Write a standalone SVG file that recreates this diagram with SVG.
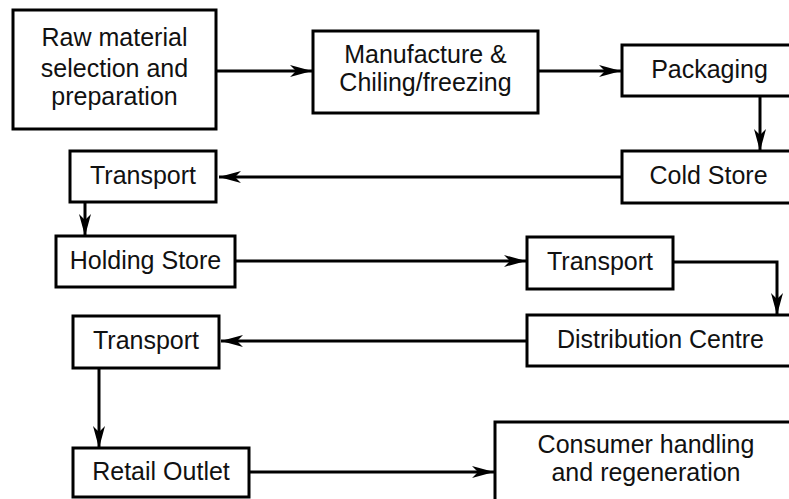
<svg xmlns="http://www.w3.org/2000/svg" width="789" height="499" viewBox="0 0 789 499">
<style>
.box{fill:#fff;stroke:#000;stroke-width:3}
.lbl{font-family:"Liberation Sans",Arial,sans-serif;font-size:25px;fill:#111;text-anchor:middle}
.conn{fill:none;stroke:#000;stroke-width:3}
</style>
<defs>
<marker id="ah" markerUnits="userSpaceOnUse" markerWidth="24" markerHeight="14" refX="22" refY="7" orient="auto" viewBox="0 0 24 14">
<path d="M0,1 L22,7 L0,13 L6,7 z" fill="#000"/>
</marker>
</defs>
<rect width="789" height="499" fill="#fff"/>
<g id="connectors">
<line class="conn" x1="216" y1="71" x2="312" y2="71" marker-end="url(#ah)"/>
<line class="conn" x1="538" y1="71" x2="621" y2="71" marker-end="url(#ah)"/>
<line class="conn" x1="760" y1="96" x2="760" y2="151" marker-end="url(#ah)"/>
<line class="conn" x1="622" y1="177" x2="219" y2="177" marker-end="url(#ah)"/>
<line class="conn" x1="85" y1="202" x2="85" y2="236" marker-end="url(#ah)"/>
<line class="conn" x1="235" y1="261" x2="526" y2="261" marker-end="url(#ah)"/>
<path class="conn" d="M673,262 H777 V315" marker-end="url(#ah)"/>
<line class="conn" x1="527" y1="341" x2="221" y2="341" marker-end="url(#ah)"/>
<line class="conn" x1="99" y1="368" x2="99" y2="448" marker-end="url(#ah)"/>
<line class="conn" x1="249" y1="472" x2="494" y2="472" marker-end="url(#ah)"/>
</g>
<g id="raw">
<rect class="box" x="13" y="10" width="203" height="119"/>
<text class="lbl" x="114.5" y="46">Raw material</text>
<text class="lbl" x="114.5" y="77">selection and</text>
<text class="lbl" x="114.5" y="105">preparation</text>
</g>
<g id="manufacture">
<rect class="box" x="313" y="31" width="225" height="82"/>
<text class="lbl" x="425.5" y="63">Manufacture &amp;</text>
<text class="lbl" x="425.5" y="91">Chiling/freezing</text>
</g>
<g id="packaging">
<rect class="box" x="622" y="45" width="190" height="51"/>
<text class="lbl" x="709.5" y="78">Packaging</text>
</g>
<g id="coldstore">
<rect class="box" x="622" y="151" width="190" height="52"/>
<text class="lbl" x="708.5" y="184">Cold Store</text>
</g>
<g id="transport1">
<rect class="box" x="70" y="151" width="146" height="51"/>
<text class="lbl" x="143" y="184">Transport</text>
</g>
<g id="holding">
<rect class="box" x="56" y="236" width="179" height="51"/>
<text class="lbl" x="145.5" y="269">Holding Store</text>
</g>
<g id="transport2">
<rect class="box" x="527" y="237" width="146" height="52"/>
<text class="lbl" x="600" y="270">Transport</text>
</g>
<g id="distribution">
<rect class="box" x="527" y="315" width="290" height="51"/>
<text class="lbl" x="660.5" y="348">Distribution Centre</text>
</g>
<g id="transport3">
<rect class="box" x="73" y="316" width="146" height="52"/>
<text class="lbl" x="146" y="349">Transport</text>
</g>
<g id="retail">
<rect class="box" x="73" y="448" width="176" height="49"/>
<text class="lbl" x="161" y="480">Retail Outlet</text>
</g>
<g id="consumer">
<rect class="box" x="495" y="422" width="320" height="90"/>
<text class="lbl" x="646" y="453">Consumer handling</text>
<text class="lbl" x="646" y="481">and regeneration</text>
</g>
</svg>
